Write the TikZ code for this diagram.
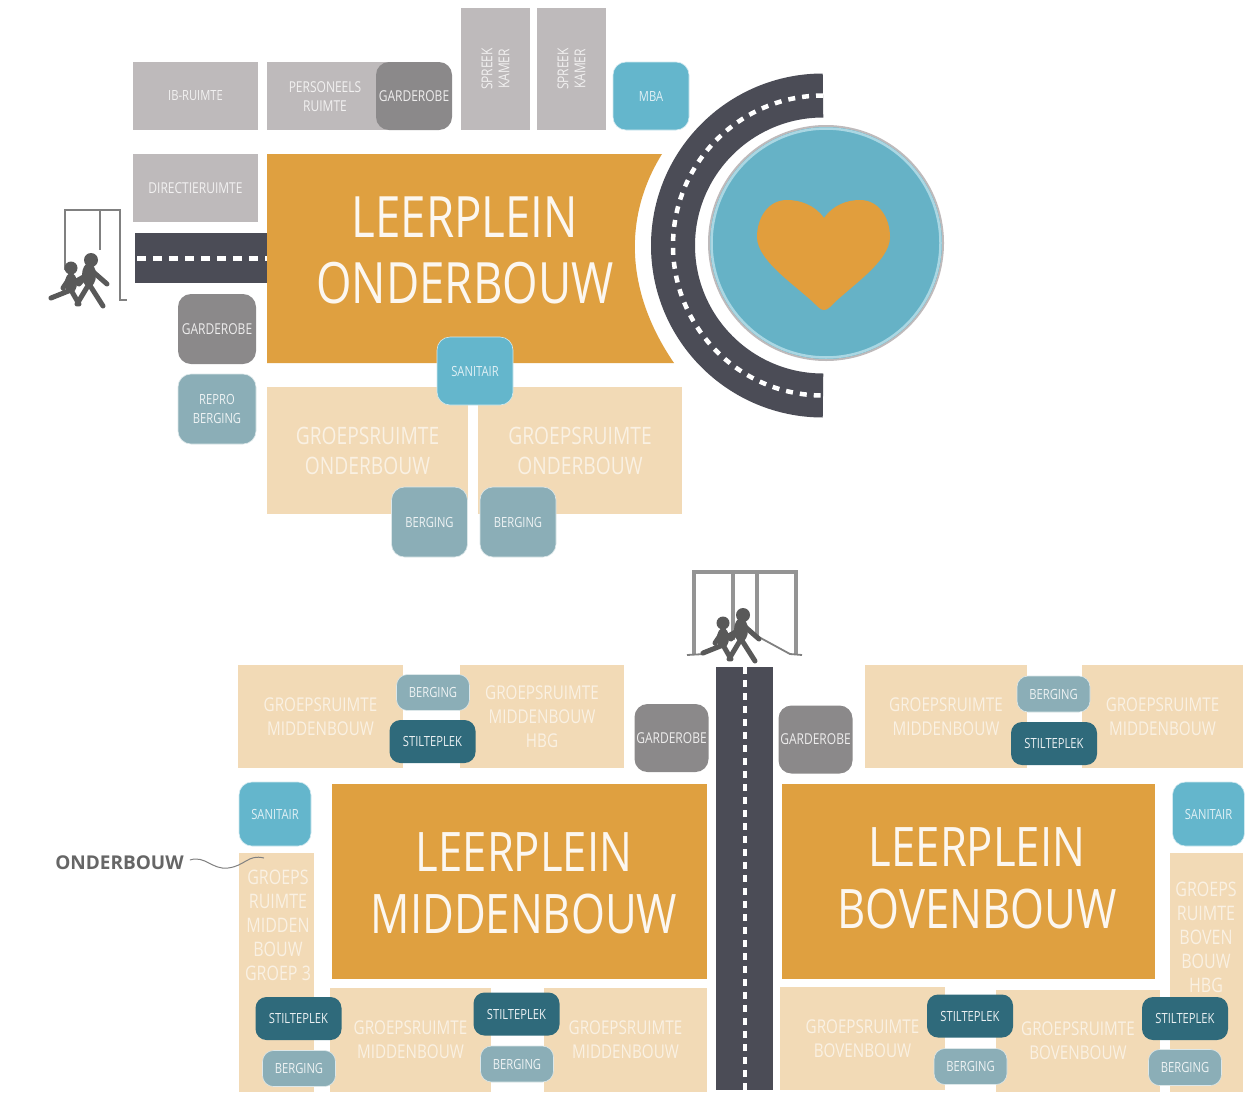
\documentclass[tikz,border=0pt]{standalone}
\usepackage{fontspec}
\setmainfont{Open Sans}[FakeStretch=0.8]
\newfontfamily\labelfont{Open Sans}
\usetikzlibrary{positioning}
\definecolor{plein}{HTML}{DFA040}
\definecolor{peach}{HTML}{F2DAB6}
\definecolor{stone}{HTML}{BEBABB}
\definecolor{cloak}{HTML}{8B898A}
\definecolor{sea}{HTML}{64B6CC}
\definecolor{store}{HTML}{8BAEB7}
\definecolor{quiet}{HTML}{2F6A7B}
\definecolor{asphalt}{HTML}{4B4C56}
\tikzset{
  room/.style={rectangle,inner sep=0pt,align=center,text=white,font=\fontsize{14}{19}\selectfont},
  office/.style={room,fill=stone,text=white!80!stone},
  klas/.style={room,fill=peach,text=white!62!peach,font=\fontsize{24}{30}\selectfont},
  klasmid/.style={klas,font=\fontsize{19}{24}\selectfont},
  klastall/.style={room,text=white!62!peach,font=\fontsize{20}{24}\selectfont},
  box/.style={room,rounded corners=13pt},
  garderobe/.style={box,fill=cloak,minimum width=74pt,minimum height=68pt,text=white!85!cloak,font=\fontsize{15}{19}\selectfont},
  sanitair/.style={box,fill=sea,minimum width=74pt,minimum height=66pt,text=white!80!sea,draw=white!70!sea,line width=.6pt},
  berging/.style={box,fill=store,minimum width=76pt,minimum height=70pt,text=white!85!store,draw=white!70!store,line width=.6pt},
  bergingflat/.style={berging,minimum width=73pt,minimum height=36pt,rounded corners=11pt},
  stilte/.style={box,fill=quiet,minimum width=86pt,minimum height=43pt,text=white!90!quiet,rounded corners=11pt},
  leerplein/.style={room,fill=plein},
  titel/.style={inner sep=0pt,align=center,text=white!92!plein},
  roadline/.style={white,line width=4pt,dash pattern=on 7pt off 6pt},
  frame/.style={draw=black!50,line width=2.8pt},
  kid/.style={draw=black!65,fill=black!65,line width=5pt,line cap=round,line join=round},
  kids/.pic={
    \fill[black!65] (0,0) circle (7) (-20,8) circle (6.5);
    \fill[black!65] (-2,15) ellipse (7 and 12) (-20,23) ellipse (6 and 10);
    \draw[kid] (-2,24) -- (12,46) (-2,24) -- (-14,44) (0,10) -- (16,24) (0,10) -- (-12,24) -- (-18,20);
    \draw[kid] (-20,30) -- (-40,38) (-20,30) -- (-12,44) (-20,16) -- (-28,28);
  }
}
\begin{document}
\begin{tikzpicture}[x=1pt,y=-1pt]
\path[fill=white,use as bounding box] (0,0) rectangle (1252,1095);

% top block
\node[office,minimum width=125pt,minimum height=68pt] (ib) at (195.5,96) {IB-RUIMTE};
\node[office,minimum width=128pt,minimum height=68pt] (personeel) at (331,96) {};
\node[room,text=white!80!stone,font=\fontsize{15}{19}\selectfont] (personeeltext) at (325,97) {PERSONEELS\\RUIMTE};
\node[garderobe,minimum width=76pt] (garderobeA) at (414,96) {GARDEROBE};
\node[office,rotate=90,minimum width=122pt,minimum height=69pt,font=\fontsize{15}{17}\selectfont] (spreekA) at (495.5,69) {SPREEK\\KAMER};
\node[office,rotate=90,minimum width=122pt,minimum height=69pt,font=\fontsize{15}{17}\selectfont] (spreekB) at (571.5,69) {SPREEK\\KAMER};
\node[sanitair,minimum width=76pt,minimum height=68pt] (mba) at (651,96) {MBA};
\node[office,minimum width=125pt,minimum height=68pt,font=\fontsize{15}{19}\selectfont] (directie) at (195.5,188) {DIRECTIERUIMTE};

% entrance road
\fill[asphalt] (135,233) rectangle (267,283);
\draw[white,line width=5pt,dash pattern=on 9pt off 7pt] (137,258) -- (267,258);

% leerplein onderbouw
\fill[plein] (267,154) -- (662,154) .. controls (624,215) and (624,290) .. (674,363) -- (267,363) -- cycle;
\node[titel,font=\fontsize{57}{66}\selectfont] (titelO) at (465,250) {LEERPLEIN\\ONDERBOUW};

% heart of the school
\draw[asphalt,line width=44pt] (823,95.5) arc[start angle=-90,end angle=-270,radius=150];
\draw[white,line width=4.5pt,dash pattern=on 7pt off 7pt] (823,95.5) arc[start angle=-90,end angle=-270,radius=150];
\node[circle,fill=sea!92!gray,draw=stone,line width=2pt,minimum size=234pt,inner sep=0pt] (hart) at (826,243) {};
\draw[white!45!sea,line width=2.5pt] (hart) circle (114.5);
\fill[plein!95!orange] (824,218) .. controls (815,205) and (800,200) .. (787,200) .. controls (768,200) and (757,218) .. (757,237)
  .. controls (757,262) and (800,288) .. (818,307) .. controls (822,311) and (826,311) .. (830,307)
  .. controls (848,288) and (890,262) .. (890,237) .. controls (890,218) and (879,200) .. (860,200) .. controls (847,200) and (833,205) .. (824,218) -- cycle;

% groepen onderbouw
\node[klas,minimum width=201pt,minimum height=127pt] (groepOA) at (367.5,450.5) {GROEPSRUIMTE\\ONDERBOUW};
\node[klas,minimum width=204pt,minimum height=127pt] (groepOB) at (580,450.5) {GROEPSRUIMTE\\ONDERBOUW};
\node[sanitair,minimum width=76pt,minimum height=68pt] (sanitairO) at (475,371) {SANITAIR};
\node[berging] (bergingOA) at (429.5,522) {BERGING};
\node[berging] (bergingOB) at (518,522) {BERGING};
\node[garderobe,minimum width=78pt,minimum height=70pt] (garderobeB) at (217,329) {GARDEROBE};
\node[berging,minimum width=78pt] (repro) at (217,409) {REPRO\\BERGING};

% door left
\draw[frame] (65,270) -- (65,210) -- (120,210) -- (120,300) -- (127,300) (100,210) -- (100,250);
\pic at (91,260) {kids};

% door top
\draw[frame,line width=3.5pt,draw=black!42] (694,654) -- (694,572) -- (796,572) -- (796,654) (733,572) -- (733,640) (757,572) -- (757,636);
\draw[frame,line width=1.8pt] (687,655) -- (705,654) (757,636) -- (790,654) -- (802,655);
\pic at (743,615) {kids};

% main road
\fill[asphalt] (716,667) rectangle (773,1090);
\draw[roadline] (745,667) -- (745,1090);

% middenbouw
\node[klasmid,minimum width=165pt,minimum height=103pt] (groepMA) at (320.5,716.5) {GROEPSRUIMTE\\MIDDENBOUW};
\node[klasmid,minimum width=164pt,minimum height=103pt] (groepMB) at (542,716.5) {GROEPSRUIMTE\\MIDDENBOUW\\HBG};
\node[bergingflat] (bergingMA) at (433,692.5) {BERGING};
\node[stilte] (stilteMA) at (432.5,741.5) {STILTEPLEK};
\node[garderobe] (garderobeC) at (671.5,738) {GARDEROBE};
\node[leerplein,minimum width=375pt,minimum height=195pt] (pleinM) at (519.5,881.5) {};
\node[titel,font=\fontsize{54.5}{62}\selectfont] (titelM) at (524,883) {LEERPLEIN\\MIDDENBOUW};
\node[sanitair,minimum width=72pt,minimum height=64pt] (sanitairM) at (275,814) {SANITAIR};
\node[klas,minimum width=75pt,minimum height=239pt,anchor=north] (groepMC) at (276,853) {};
\node[klastall] (groepMCtext) at (278,925) {GROEPS\\RUIMTE\\MIDDEN\\BOUW\\GROEP 3};
\node[klasmid,minimum width=161pt,minimum height=104pt] (groepMD) at (410.5,1040) {GROEPSRUIMTE\\MIDDENBOUW};
\node[klasmid,minimum width=163pt,minimum height=104pt] (groepME) at (625.5,1040) {GROEPSRUIMTE\\MIDDENBOUW};
\node[stilte] (stilteMB) at (298.5,1018.5) {STILTEPLEK};
\node[bergingflat] (bergingMB) at (299,1068.5) {BERGING};
\node[stilte] (stilteMC) at (516.5,1014) {STILTEPLEK};
\node[bergingflat] (bergingMC) at (517,1064) {BERGING};

% bovenbouw
\node[garderobe] (garderobeD) at (815.5,739.5) {GARDEROBE};
\node[klasmid,minimum width=162pt,minimum height=103pt] (groepBA) at (946,716.5) {GROEPSRUIMTE\\MIDDENBOUW};
\node[klasmid,minimum width=161pt,minimum height=103pt] (groepBB) at (1162.5,716.5) {GROEPSRUIMTE\\MIDDENBOUW};
\node[bergingflat] (bergingBA) at (1053.5,694) {BERGING};
\node[stilte] (stilteBA) at (1054,743.5) {STILTEPLEK};
\node[leerplein,minimum width=373pt,minimum height=195pt] (pleinB) at (968.5,881.5) {};
\node[titel,font=\fontsize{54.5}{62}\selectfont] (titelB) at (977,878) {LEERPLEIN\\BOVENBOUW};
\node[sanitair,minimum width=72pt,minimum height=64pt] (sanitairB) at (1208.5,814) {SANITAIR};
\node[klas,minimum width=73pt,minimum height=239pt,anchor=north] (groepBC) at (1206.5,853) {};
\node[klastall] (groepBCtext) at (1206,937) {GROEPS\\RUIMTE\\BOVEN\\BOUW\\HBG};
\node[klasmid,minimum width=165pt,minimum height=103pt] (groepBD) at (862.5,1038.5) {GROEPSRUIMTE\\BOVENBOUW};
\node[klasmid,minimum width=164pt,minimum height=102pt] (groepBE) at (1078,1041) {GROEPSRUIMTE\\BOVENBOUW};
\node[stilte] (stilteBB) at (970,1016) {STILTEPLEK};
\node[bergingflat] (bergingBB) at (970.5,1066.5) {BERGING};
\node[stilte] (stilteBC) at (1185,1018.5) {STILTEPLEK};
\node[bergingflat] (bergingBC) at (1185,1067.5) {BERGING};

% label with squiggle
\node[inner sep=0pt,text=black!60,font=\labelfont\fontsize{19}{20}\bfseries\selectfont] (onderbouw) at (119.5,863) {ONDERBOUW};
\coordinate (onderbouwend) at (264,858);
\draw[black!50,line width=1pt] (onderbouw.east) ++(6,-3) .. controls (205,855) and (212,870) .. (228,868) .. controls (245,866) and (248,854) .. (onderbouwend);
\end{tikzpicture}
\end{document}
